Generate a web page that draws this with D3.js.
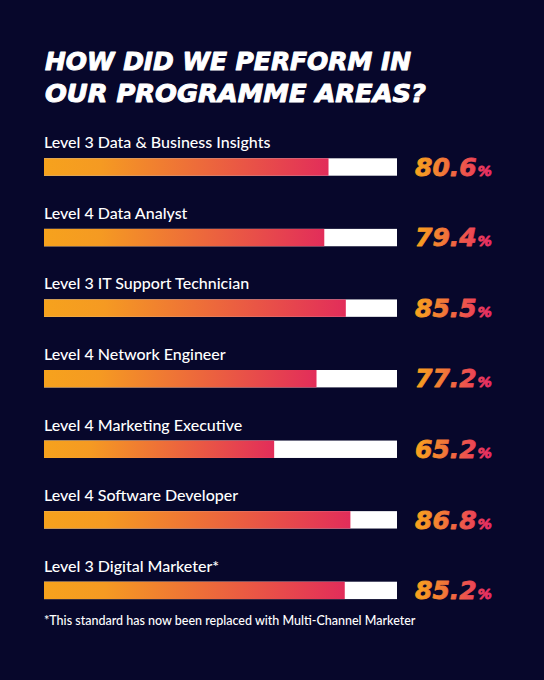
<!DOCTYPE html>
<html>
<head>
<meta charset="utf-8">
<script src="https://cdn.jsdelivr.net/npm/d3@7"></script>
<style>
html,body{margin:0;padding:0;background:#07072b;}
svg{display:block;}
</style>
</head>
<body>
<script>
const titleLines = ["HOW DID WE PERFORM IN", "OUR PROGRAMME AREAS?"];
const categories = [
  "Level 3 Data & Business Insights",
  "Level 4 Data Analyst",
  "Level 3 IT Support Technician",
  "Level 4 Network Engineer",
  "Level 4 Marketing Executive",
  "Level 4 Software Developer",
  "Level 3 Digital Marketer*"
];
const values = [80.6, 79.4, 85.5, 77.2, 65.2, 86.8, 85.2];
const footnote = "*This standard has now been replaced with Multi-Channel Marketer";

const W = 544, H = 680;
const svg = d3.select("body").append("svg").attr("width", W).attr("height", H);
svg.append("rect").attr("width", W).attr("height", H).attr("fill", "#07072b");

const defs = svg.append("defs");
const barGrad = defs.append("linearGradient").attr("id", "barGrad").attr("x1", 0).attr("x2", 1).attr("y1", 0).attr("y2", 0);
barGrad.append("stop").attr("offset", "0%").attr("stop-color", "#f6a21d");
barGrad.append("stop").attr("offset", "20%").attr("stop-color", "#f59a22");
barGrad.append("stop").attr("offset", "100%").attr("stop-color", "#e22d5a");
const txtGrad = defs.append("linearGradient").attr("id", "txtGrad").attr("x1", 0).attr("x2", 1).attr("y1", 0).attr("y2", 0);
txtGrad.append("stop").attr("offset", "0%").attr("stop-color", "#f8a51c");
txtGrad.append("stop").attr("offset", "100%").attr("stop-color", "#e82a66");

// Title
const title = svg.append("g");
title.selectAll("text").data(titleLines).join("text")
  .attr("x", 45)
  .attr("y", (d, i) => 70 + i * 31.7)
  .attr("fill", "#ffffff")
  .attr("stroke", "#ffffff")
  .attr("stroke-width", 1)
  .attr("stroke-linejoin", "round")
  .attr("font-family", "'DejaVu Sans', sans-serif")
  .attr("font-weight", 700)
  .attr("font-style", "italic")
  .attr("font-size", 24)
  .attr("textLength", (d, i) => i === 0 ? 366 : 381)
  .attr("lengthAdjust", "spacingAndGlyphs")
  .text(d => d);

const x = d3.scaleLinear().domain([0, 100]).range([44, 397]);
const y = d3.scalePoint().domain(categories).range([158.3, 581.7]);
const barH = 17.4;

const data = categories.map((c, i) => ({ cat: c, val: values[i] }));
const rows = svg.append("g").selectAll("g").data(data).join("g");

rows.append("text")
  .attr("x", 44)
  .attr("y", d => y(d.cat) - 10)
  .attr("fill", "#ffffff")
  .attr("font-family", "Lato, sans-serif")
  .attr("font-weight", 500)
  .attr("font-size", 16)
  .text(d => d.cat);

rows.append("rect")
  .attr("x", x(0))
  .attr("y", d => y(d.cat))
  .attr("width", x(100) - x(0))
  .attr("height", barH)
  .attr("fill", "#ffffff");

rows.append("rect")
  .attr("x", x(0))
  .attr("y", d => y(d.cat))
  .attr("width", d => x(d.val) - x(0))
  .attr("height", barH)
  .attr("fill", "url(#barGrad)");

const vt = rows.append("text")
  .attr("x", 415)
  .attr("y", d => y(d.cat) + barH)
  .attr("fill", "url(#txtGrad)")
  .attr("stroke", "url(#txtGrad)")
  .attr("stroke-width", 0.8)
  .attr("stroke-linejoin", "round")
  .attr("font-family", "'DejaVu Sans', sans-serif")
  .attr("font-weight", 700)
  .attr("font-style", "italic");
vt.append("tspan").attr("font-size", 25).text(d => d.val.toFixed(1));
vt.append("tspan").attr("font-size", 14).attr("dx", 1).text("%");

svg.append("text")
  .attr("x", 44)
  .attr("y", 625)
  .attr("fill", "#ffffff")
  .attr("font-family", "Lato, sans-serif")
  .attr("font-weight", 500)
  .attr("font-size", 12.5)
  .text(footnote);
</script>
</body>
</html>
